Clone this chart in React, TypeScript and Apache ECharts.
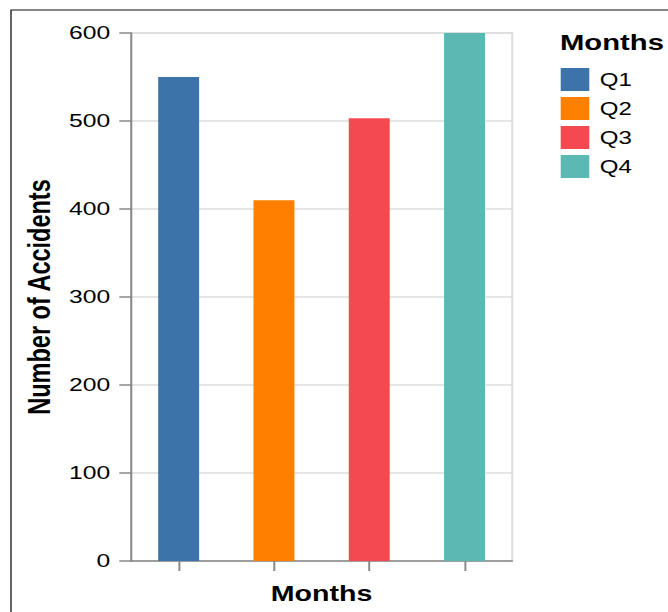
import React, { useEffect, useRef } from "react";
import * as echarts from "echarts";

// Quarterly accident counts
const quarters = ["Q1", "Q2", "Q3", "Q4"];
const accidents = [550, 410, 503, 600];
const quarterColors = ["#3c73a8", "#ff7f00", "#f54952", "#5bb8b3"];

const yMin = 0;
const yMax = 600;
const yStep = 100;

// The chart is laid out on a narrower canvas and widened horizontally.
const STRETCH = 1.3;
const PAGE_W = 668;
const PAGE_H = 612;
const W = PAGE_W / STRETCH;

const FONT = "'Liberation Sans', Arial, Helvetica, sans-serif";

export default function App() {
  const ref = useRef<HTMLDivElement>(null);

  useEffect(() => {
    if (!ref.current) return;
    const chart = echarts.init(ref.current, null, { renderer: "svg" });

    const series = quarters.map((q, i) => ({
      name: q,
      type: "bar" as const,
      barWidth: 31.5,
      barGap: "-100%",
      itemStyle: { color: quarterColors[i] },
      data: quarters.map((_, j) => (j === i ? accidents[i] : "-")),
    }));

    chart.setOption({
      animation: false,
      textStyle: { fontFamily: FONT },
      grid: {
        left: 131 / STRETCH,
        right: W - 512 / STRETCH,
        top: 33,
        bottom: PAGE_H - 561,
        show: true,
        borderColor: "#dddddd",
        borderWidth: 1.5,
      },
      xAxis: {
        type: "category",
        data: quarters,
        name: "Months",
        nameLocation: "middle",
        nameGap: 21,
        nameTextStyle: { fontSize: 22, fontWeight: "bold", color: "#000", fontFamily: FONT },
        axisLine: { show: true, lineStyle: { color: "#888888", width: 1.5 } },
        axisTick: { show: true, alignWithLabel: true, length: 10, lineStyle: { color: "#888888", width: 1.5 } },
        axisLabel: { show: false },
        splitLine: { show: false },
      },
      yAxis: {
        type: "value",
        min: yMin,
        max: yMax,
        interval: yStep,
        name: "Number of Accidents",
        nameLocation: "middle",
        nameGap: 54,
        nameRotate: 90,
        nameTextStyle: { fontSize: 23.5, fontWeight: "bold", color: "#000", fontFamily: FONT },
        axisLine: { show: true, lineStyle: { color: "#888888", width: 1.5 } },
        axisTick: { show: true, length: 9, lineStyle: { color: "#888888", width: 1.5 } },
        axisLabel: { fontSize: 19, color: "#000", margin: 16, fontFamily: FONT },
        splitLine: { show: true, lineStyle: { color: "#dddddd", width: 1.5 } },
      },
      legend: {
        orient: "vertical",
        left: 560.7 / STRETCH,
        top: 68,
        padding: 0,
        icon: "rect",
        itemWidth: 22,
        itemHeight: 23,
        itemGap: 6,
        data: quarters,
        textStyle: { fontSize: 18.5, color: "#000", padding: [0, 0, 0, 3], fontFamily: FONT },
      },
      graphic: [
        {
          type: "rect",
          shape: { x: 11 / STRETCH, y: 10, width: W + 50, height: PAGE_H + 50 },
          style: { fill: "none", stroke: "#111", lineWidth: 1 },
          silent: true,
        },
        {
          type: "text",
          left: 560 / STRETCH,
          top: 31,
          style: {
            text: "Months",
            fontSize: 22.5,
            fontWeight: "bold",
            fill: "#000",
            fontFamily: FONT,
          },
        },
      ],
      series,
    });

    return () => chart.dispose();
  }, []);

  return (
    <div
      ref={ref}
      style={{
        position: "fixed",
        left: 0,
        top: 0,
        width: W,
        height: PAGE_H,
        transform: `scaleX(${STRETCH})`,
        transformOrigin: "0 0",
        background: "#fff",
      }}
    />
  );
}
